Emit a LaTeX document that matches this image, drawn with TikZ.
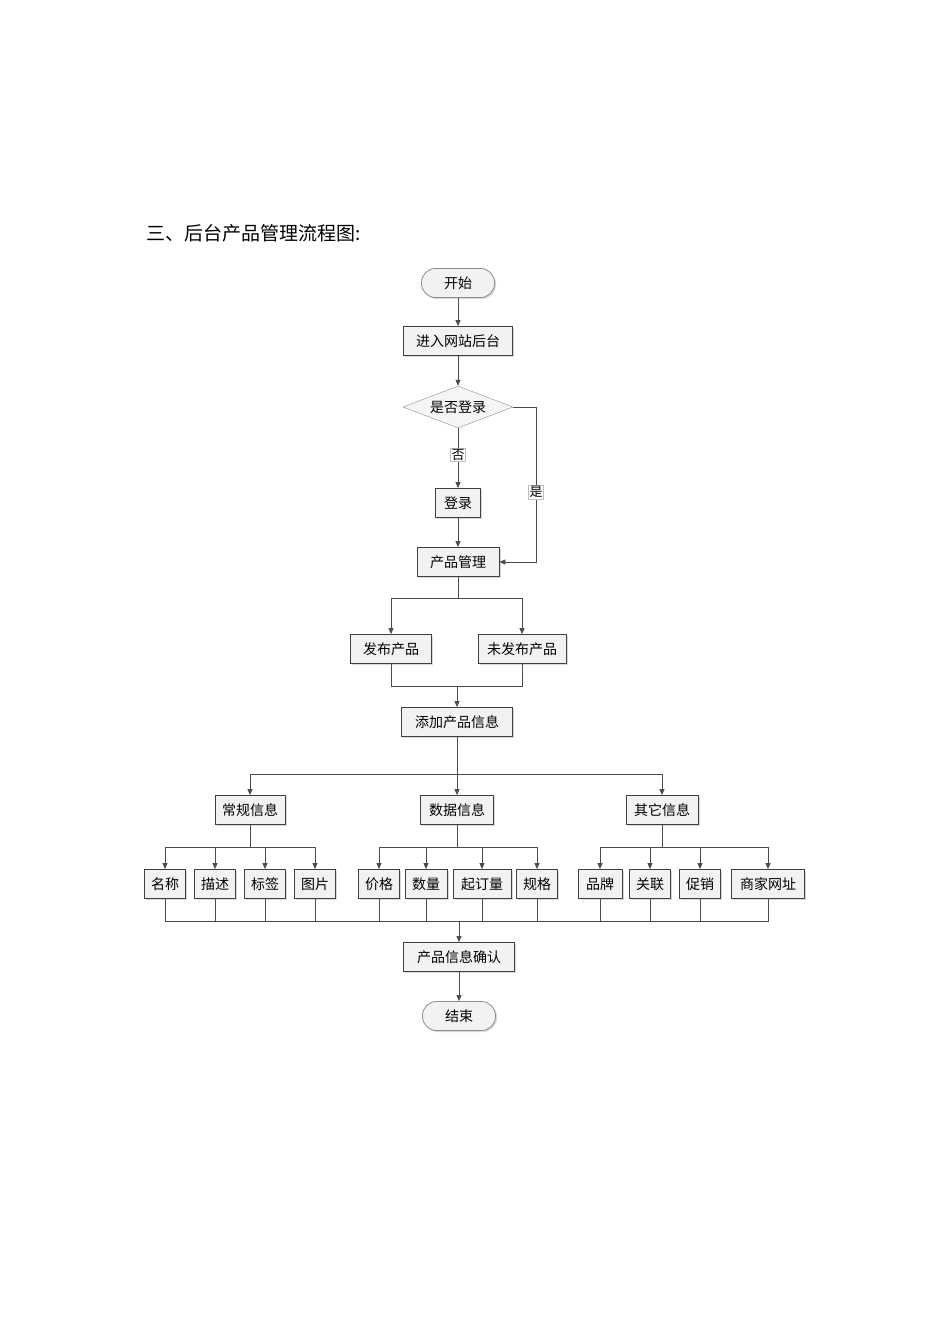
\documentclass[tikz,border=0pt]{standalone}
\usepackage{fontspec}
\setmainfont{Noto Sans CJK SC}
\usetikzlibrary{shapes.geometric,arrows.meta,shadows}
\begin{document}
\begin{tikzpicture}[x=1pt,y=-1pt,
  every node/.style={font=\fontsize{14}{16}\selectfont},
  bx/.style={draw=black!75,thick,fill=black!5,minimum height=29pt,inner sep=3pt,drop shadow={shadow xshift=1.5pt,shadow yshift=-1.5pt,opacity=0.3}},
  term/.style={bx,rounded corners=14pt,minimum width=73pt,draw=black!45},
  dia/.style={diamond,aspect=2.6,draw=black!45,fill=black!4,inner sep=1pt,minimum width=110pt,minimum height=42pt},
  ar/.style={draw=black!70,thick,-{Triangle[length=6pt,width=5pt]}},
  ln/.style={draw=black!70,thick},
  lab/.style={fill=white,draw=black!25,inner sep=1pt,font=\fontsize{13}{15}\selectfont}]
\useasboundingbox (0,0) rectangle (950,1344);
\node[anchor=west,font=\fontsize{19}{22}\selectfont] (title) at (143,233) {三、后台产品管理流程图:};
\node[term] (start) at (458,283) {开始};
\node[bx,minimum width=109pt] (enter) at (458,341) {进入网站后台};
\node[dia] (q) at (458,407) {是否登录};
\node[bx,minimum width=45pt] (login) at (458,503) {登录};
\node[bx,minimum width=82pt] (pm) at (458,562) {产品管理};
\node[bx,minimum width=81pt] (pub) at (391,649) {发布产品};
\node[bx,minimum width=88pt] (unpub) at (522,649) {未发布产品};
\node[bx,minimum width=111pt] (add) at (457,722) {添加产品信息};
\node[bx,minimum width=70pt] (g1) at (250,810) {常规信息};
\node[bx,minimum width=73pt] (g2) at (457,810) {数据信息};
\node[bx,minimum width=72pt] (g3) at (662,810) {其它信息};
\foreach \n/\x/\w/\t in {a1/165/41/名称,a2/215/41/描述,a3/265/41/标签,a4/315/41/图片,
  b1/379/41/价格,b2/426/42/数量,b3/482/58/起订量,b4/537/41/规格,
  c1/600/44/品牌,c2/650/41/关联,c3/700/41/促销,c4/768/73/商家网址}
  \node[bx,minimum width=\w pt,inner xsep=1pt] (\n) at (\x,884) {\t};
\node[bx,minimum width=111pt] (conf) at (459,957) {产品信息确认};
\node[term] (end) at (459,1016) {结束};
% connectors
\draw[ar] (start) -- (enter);
\draw[ar] (enter) -- (q);
\draw[ar] (q) -- node[lab,pos=0.45]{否} (login);
\draw[ar] (login) -- (pm);
\draw[ar] (q.east) -- (536,407) -- node[lab,pos=0.55]{是} (536,562) -- (pm.east);
\coordinate (s1) at (458,598);
\draw[ln] (pm.south) -- (s1);
\draw[ar] (s1) -| (pub.north);
\draw[ar] (s1) -| (unpub.north);
\coordinate (j1) at (457,686);
\draw[ln] (pub.south) |- (j1);
\draw[ln] (unpub.south) |- (j1);
\draw[ar] (j1) -- (add);
\coordinate (s2) at (457,774);
\draw[ln] (add.south) -- (s2);
\draw[ar] (s2) -| (g1.north);
\draw[ar] (s2) -- (g2.north);
\draw[ar] (s2) -| (g3.north);
\foreach \g/\c/\l/\r in {g1/250/a1/a4,g2/457/b1/b4,g3/662/c1/c4}{
  \coordinate (m\g) at (\c,847);
  \draw[ln] (\g.south) -- (m\g);
}
\foreach \g/\k in {g1/a1,g1/a2,g1/a3,g1/a4,g2/b1,g2/b2,g2/b3,g2/b4,g3/c1,g3/c2,g3/c3,g3/c4}
  \draw[ar] (m\g) -| (\k.north);
\coordinate (j2) at (459,921);
\foreach \k in {a1,a2,a3,a4,b1,b2,b3,b4,c1,c2,c3,c4}
  \draw[ln] (\k.south) |- (j2);
\draw[ar] (j2) -- (conf);
\draw[ar] (conf) -- (end);
\end{tikzpicture}
\end{document}
